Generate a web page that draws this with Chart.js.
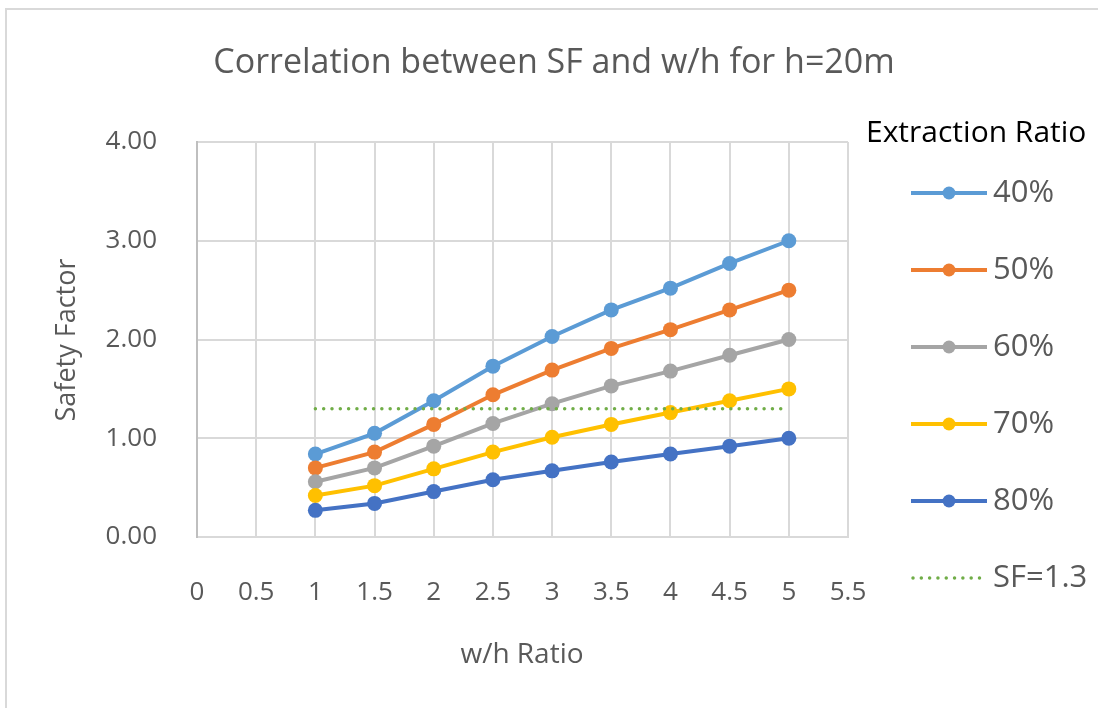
<!DOCTYPE html>
<html lang="en">
<head>
  <meta charset="UTF-8">
  <title>Correlation between SF and w/h for h=20m</title>
  <style>
    body { margin: 0; background: #fff; }
    canvas { display: block; }
  </style>
</head>
<body>
<canvas id="chart" width="1098" height="708"></canvas>

<script src="https://cdn.jsdelivr.net/npm/chart.js"></script>
<script>
// w/h ratio and safety factor for each extraction ratio
const whRatio = [1, 1.5, 2, 2.5, 3, 3.5, 4, 4.5, 5];
const sf40 = [0.84, 1.05, 1.38, 1.73, 2.03, 2.30, 2.52, 2.77, 3.00];
const sf50 = [0.70, 0.86, 1.14, 1.44, 1.69, 1.91, 2.10, 2.30, 2.50];
const sf60 = [0.56, 0.70, 0.92, 1.15, 1.35, 1.53, 1.68, 1.84, 2.00];
const sf70 = [0.42, 0.52, 0.69, 0.86, 1.01, 1.14, 1.26, 1.38, 1.50];
const sf80 = [0.27, 0.34, 0.46, 0.58, 0.67, 0.76, 0.84, 0.92, 1.00];
const seriesLabels = ['40%', '50%', '60%', '70%', '80%'];
const seriesColors = ['#5b9bd5', '#ed7d31', '#a5a5a5', '#ffc000', '#4472c4'];

// SF=1.3 reference line
const limitX = [1, 5];
const limitSF = 1.3;

const FONT = '"Open Sans", "Noto Sans", sans-serif';
const GREY_TEXT = '#595959';

const toPoints = (xs, ys) => xs.map((x, i) => ({ x: x, y: ys[i] }));

const datasets = [sf40, sf50, sf60, sf70, sf80].map((ys, i) => ({
  label: seriesLabels[i],
  data: toPoints(whRatio, ys),
  borderColor: seriesColors[i],
  backgroundColor: seriesColors[i],
  borderWidth: 4,
  pointRadius: 7.5,
  pointHoverRadius: 7.5,
  pointBorderWidth: 0,
  order: 5 - i
}));

datasets.push({
  label: 'SF=1.3',
  data: limitX.map(x => ({ x: x, y: limitSF })),
  borderColor: '#70ad47',
  backgroundColor: '#70ad47',
  borderWidth: 3.5,
  borderDash: [0.01, 8.3],
  borderCapStyle: 'round',
  pointRadius: 0,
  order: 0,
  dotted: true
});

// title, axis titles, legend and the outer frame
const decorations = {
  id: 'decorations',
  afterDraw(chart) {
    const ctx = chart.ctx;
    ctx.save();

    ctx.fillStyle = '#d9d9d9';
    ctx.fillRect(5, 8, 2, 700);
    ctx.fillRect(5, 8, 1093, 2);

    ctx.fillStyle = GREY_TEXT;
    ctx.textAlign = 'center';
    ctx.textBaseline = 'middle';
    ctx.font = '34px ' + FONT;
    ctx.fillText('Correlation between SF and w/h for h=20m', 554, 63);

    ctx.font = '28px ' + FONT;
    ctx.fillText('w/h Ratio', 522, 655);
    ctx.font = '27px ' + FONT;
    ctx.save();
    ctx.translate(67, 340);
    ctx.rotate(-Math.PI / 2);
    ctx.fillText('Safety Factor', 0, 0);
    ctx.restore();

    // legend
    ctx.textAlign = 'left';
    ctx.fillStyle = '#000';
    ctx.font = '30px ' + FONT;
    ctx.fillText('Extraction Ratio', 866, 133);

    ctx.font = '31px ' + FONT;
    chart.data.datasets.forEach((ds, i) => {
      const y = 193 + i * 77;
      ctx.strokeStyle = ds.borderColor;
      ctx.lineWidth = ds.dotted ? 3.5 : 4;
      ctx.lineCap = ds.dotted ? 'round' : 'butt';
      ctx.setLineDash(ds.dotted ? [0.01, 8.3] : []);
      ctx.beginPath();
      ctx.moveTo(ds.dotted ? 913 : 911, y);
      ctx.lineTo(987, y);
      ctx.stroke();
      ctx.setLineDash([]);
      if (!ds.dotted) {
        ctx.fillStyle = ds.backgroundColor;
        ctx.beginPath();
        ctx.arc(949, y, 6.5, 0, Math.PI * 2);
        ctx.fill();
      }
      ctx.fillStyle = GREY_TEXT;
      ctx.fillText(ds.label, 993, y);
    });

    ctx.restore();
  }
};

new Chart(document.getElementById('chart'), {
  type: 'line',
  data: { datasets: datasets },
  plugins: [decorations],
  options: {
    responsive: false,
    animation: false,
    layout: { padding: { top: 142, right: 250, left: 0, bottom: 0 } },
    plugins: {
      legend: { display: false },
      title: { display: false },
      tooltip: { enabled: false }
    },
    scales: {
      x: {
        type: 'linear',
        min: 0,
        max: 5.5,
        afterFit(scale) { scale.height = 171; },
        ticks: {
          stepSize: 0.5,
          color: GREY_TEXT,
          padding: 40,
          maxRotation: 0,
          font: { family: FONT, size: 26 },
          callback: v => String(v)
        },
        grid: { color: '#d9d9d9', lineWidth: 2, drawTicks: false },
        border: { color: '#d9d9d9', width: 2 }
      },
      y: {
        min: 0,
        max: 4,
        afterFit(scale) { scale.width = 197; },
        ticks: {
          stepSize: 1,
          color: GREY_TEXT,
          padding: 40,
          font: { family: FONT, size: 26 },
          callback: v => v.toFixed(2)
        },
        grid: { color: '#d9d9d9', lineWidth: 2, drawTicks: false },
        border: { color: '#bfbfbf', width: 2 }
      }
    }
  }
});
</script>
</body>
</html>
